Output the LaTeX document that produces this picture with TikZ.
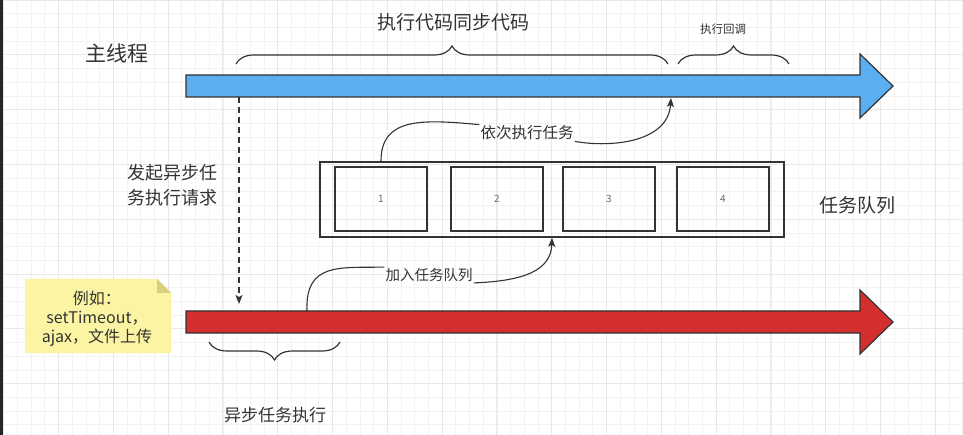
\documentclass[tikz,border=0pt]{standalone}
\usepackage{fontspec}
\setmainfont{Noto Sans CJK SC}
\usepackage{xcolor}
\usetikzlibrary{arrows.meta,positioning,decorations.pathreplacing}
\definecolor{threadblue}{HTML}{5BAEEF}
\definecolor{asyncred}{HTML}{D32F2F}
\definecolor{notefill}{HTML}{FBF5A3}
\definecolor{notefold}{HTML}{D6D07C}
\definecolor{ink}{HTML}{333333}

\begin{document}
\begin{tikzpicture}[x=1pt, y=-1pt,
  box/.style={draw=ink, line width=1.6pt, minimum width=92pt, minimum height=64pt, font=\fontsize{10}{12}\selectfont, text=black!60},
  lab/.style={text=ink, align=center, inner sep=1pt},
  conn/.style={draw=ink, line width=1.1pt},
  tip/.style={-{Stealth[length=9pt, width=7pt, inset=2pt]}},
  brc/.style={draw=ink, line width=1.2pt, decorate, decoration={brace, amplitude=18pt}},
  band/.style={draw=ink, line width=1.2pt}
]
\useasboundingbox (0,0) rectangle (963,435);
\fill[white] (0,0) rectangle (963,435);
\begin{scope}[shift={(3.6,0)}]
  \draw[black!5, line width=0.6pt] (-3.6,0) grid[step=13.7pt] (963,435);
  \draw[black!9, line width=0.7pt] (-3.6,0) grid[step=54.8pt] (963,435);
\end{scope}
\fill[black!85] (0,0) rectangle (3,435);

\fill[threadblue, band] (186,75) -- (860,75) -- (860,54) -- (893,86) -- (860,118) -- (860,97) -- (186,97) -- cycle;
\fill[asyncred, band] (186,311) -- (860,311) -- (860,290) -- (893,322) -- (860,354) -- (860,333) -- (186,333) -- cycle;

\node[lab, font=\fontsize{21}{25}\selectfont] (mainlbl) at (117,53) {主线程};
\node[lab, font=\fontsize{19}{23}\selectfont] (synclbl) at (453,22) {执行代码同步代码};
\node[lab, font=\fontsize{11.5}{14}\selectfont] (cblbl) at (723,29) {执行回调};
\draw[brc] (236,64) -- (668,64);
\draw[brc] (678,64) -- (789,64);

\coordinate (ds) at (239,97);
\coordinate (de) at (239,304);
\draw[conn, tip, dash pattern=on 6pt off 4pt] (ds) -- (de);
\node[lab, font=\fontsize{18}{25}\selectfont] (reqlbl) at (172,185) {发起异步任\\务执行请求};

\node[draw=ink, line width=1.6pt, minimum width=464pt, minimum height=75pt] (queue) at (552,199.5) {};
\foreach \i/\x in {1/381,2/497,3/609,4/723} {
  \node[box] (b\i) at (\x,199) {\i};
}
\node[lab, font=\fontsize{19}{23}\selectfont] (queuelbl) at (857,205) {任务队列};

\coordinate (cb) at (671,98);
\node[lab, font=\fontsize{15.5}{18}\selectfont] (runlbl) at (527,133) {依次执行任务};
\draw[conn] (b1.north |- queue.north) .. controls (381,118) and (420,119) .. (runlbl.north west);
\draw[conn, tip] (runlbl.south east) .. controls (612,148) and (668,142) .. (cb);

\coordinate (cr) at (307,311);
\node[lab, font=\fontsize{14.5}{17}\selectfont] (addlbl) at (429,275) {加入任务队列};
\draw[conn] (cr) .. controls (305,262) and (340,268) .. (addlbl.north west);
\draw[conn, tip] (addlbl.south east) .. controls (525,281) and (551,270) .. (queue.south);

\fill[notefill] (25,279) -- (157,279) -- (171,293) -- (171,353) -- (25,353) -- cycle;
\fill[notefold] (157,279) -- (171,293) -- (157,293) -- cycle;
\node[lab, font=\fontsize{16}{19}\selectfont] (note) at (97,319) {例如：\\setTimeout，\\ajax，文件上传};

\draw[brc] (340,342) -- (209,342);
\node[lab, font=\fontsize{17}{20}\selectfont] (asynclbl) at (275,415) {异步任务执行};
\end{tikzpicture}
\end{document}
